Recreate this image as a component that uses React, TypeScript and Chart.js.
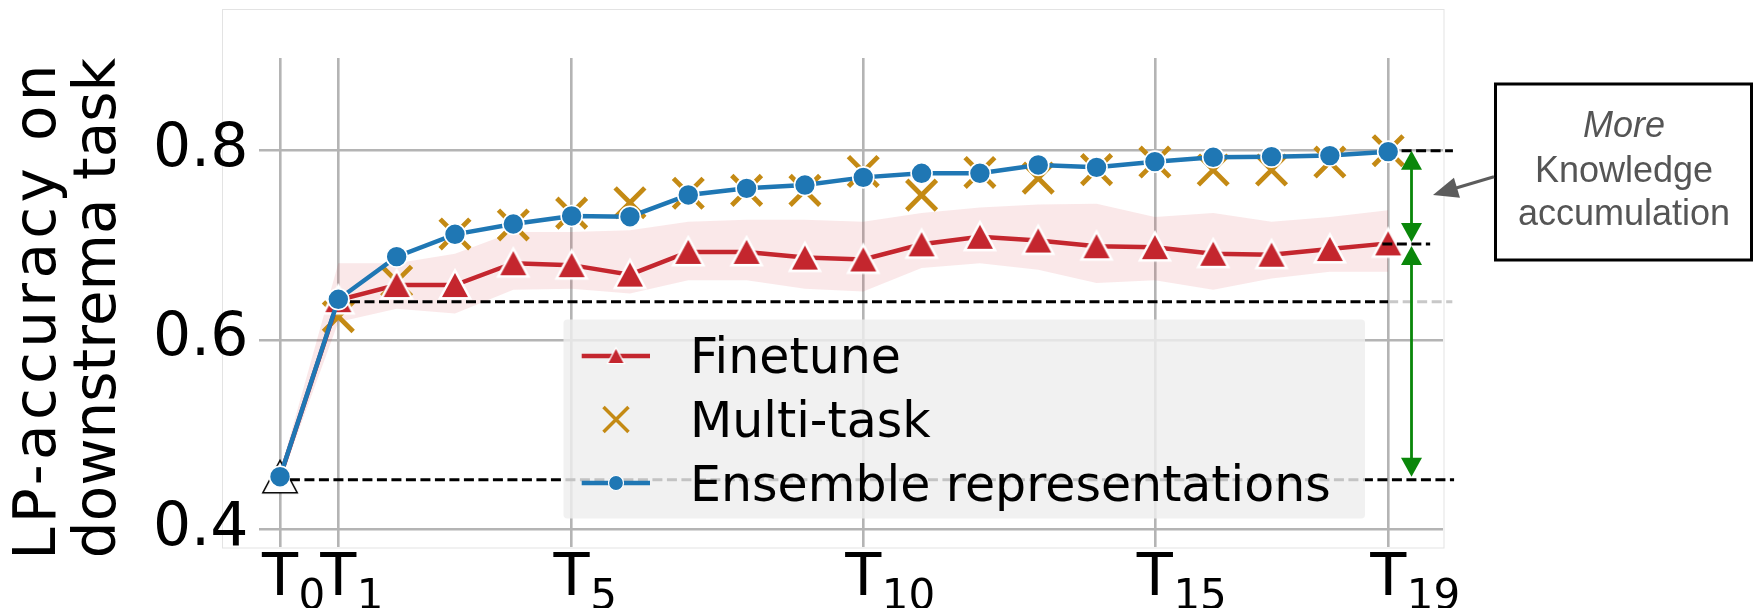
import React, { useEffect, useRef } from "react";
import { Chart, registerables } from "chart.js";

Chart.register(...registerables);

// ---------------- data ----------------
const tasks = [0, 1, 2, 3, 4, 5, 6, 7, 8, 9, 10, 11, 12, 13, 14, 15, 16, 17, 18, 19];
const finetune = [0.455, 0.642, 0.658, 0.658, 0.681, 0.679, 0.669, 0.693, 0.693, 0.687, 0.685, 0.701, 0.709, 0.705, 0.699, 0.698, 0.691, 0.690, 0.696, 0.702];
const finetuneUpper = [0.46, 0.681, 0.681, 0.691, 0.714, 0.714, 0.716, 0.725, 0.727, 0.727, 0.725, 0.734, 0.740, 0.743, 0.744, 0.730, 0.734, 0.725, 0.730, 0.737];
const finetuneLower = [0.45, 0.619, 0.633, 0.628, 0.653, 0.654, 0.649, 0.663, 0.663, 0.654, 0.651, 0.676, 0.681, 0.674, 0.660, 0.663, 0.653, 0.665, 0.672, 0.672];
const multiTask = [null, 0.6245, 0.662, 0.712, 0.7215, 0.734, 0.745, 0.755, 0.758, 0.758, 0.778, 0.753, 0.777, 0.771, 0.780, 0.788, 0.7796, 0.7796, 0.788, 0.800];
const ensemble = [0.4553, 0.6429, 0.688, 0.7116, 0.7225, 0.731, 0.7302, 0.7532, 0.7602, 0.7637, 0.7718, 0.7761, 0.7761, 0.7849, 0.7824, 0.7884, 0.793, 0.7937, 0.7948, 0.799];

const xTickValues = [0, 1, 5, 10, 15, 19];
const xTickSubs = ["0", "1", "5", "10", "15", "19"];
const yTickValues = [0.4, 0.6, 0.8];

const refT0 = 0.452;
const refT1 = 0.6404;
const refFinetuneEnd = 0.7013;
const refEnsembleEnd = 0.8;

const legendLabels = ["Finetune", "Multi-task", "Ensemble representations"];
const boxLines = ["More", "Knowledge", "accumulation"];
const yTitleLines = ["LP-accuracy on", "downstrema task"];

// ---------------- styles ----------------
const RED = "#c4262e";
const BLUE = "#1f77b4";
const GOLD = "#c48a14";
const GREEN = "#0a870a";
const GRID = "#b4b4b4";
const DJ = "'DejaVu Sans'";

function makeTri(w: number, h: number, fill: string, stroke: string, lw: number) {
  const pad = lw * 2 + 3;
  const c = document.createElement("canvas");
  c.width = Math.ceil(w + pad * 2);
  c.height = Math.ceil(h + pad * 2);
  const g = c.getContext("2d")!;
  const cx = c.width / 2;
  const cy = c.height / 2;
  g.beginPath();
  g.moveTo(cx, cy - h / 2);
  g.lineTo(cx + w / 2, cy + h / 2);
  g.lineTo(cx - w / 2, cy + h / 2);
  g.closePath();
  g.lineJoin = "miter";
  g.lineWidth = lw;
  g.strokeStyle = stroke;
  g.stroke();
  g.fillStyle = fill;
  g.fill();
  return c;
}

function arrowHead(ctx: CanvasRenderingContext2D, tx: number, ty: number, dx: number, dy: number, len: number, wid: number, color: string) {
  const L = Math.hypot(dx, dy);
  const ux = dx / L, uy = dy / L;
  const bx = tx - ux * len, by = ty - uy * len;
  ctx.beginPath();
  ctx.moveTo(tx, ty);
  ctx.lineTo(bx - uy * wid / 2, by + ux * wid / 2);
  ctx.lineTo(bx + uy * wid / 2, by - ux * wid / 2);
  ctx.closePath();
  ctx.fillStyle = color;
  ctx.fill();
}

const decorPlugin = {
  id: "decor",
  beforeDraw(chart: any) {
    const ctx = chart.ctx as CanvasRenderingContext2D;
    ctx.save();
    ctx.fillStyle = "#ffffff";
    ctx.fillRect(0, 0, chart.width, chart.height);
    ctx.strokeStyle = "#e3e3e3";
    ctx.lineWidth = 1;
    ctx.strokeRect(222.5, 9.5, 1221.5, 538.5);
    ctx.restore();
  },
  afterDatasetsDraw(chart: any) {
    const ctx = chart.ctx as CanvasRenderingContext2D;
    const xs = chart.scales.x;
    const ys = chart.scales.y;
    ctx.save();
    // green double arrows
    const gx = xs.getPixelForValue(19.4);
    const yTop = ys.getPixelForValue(refEnsembleEnd);
    const yMid = ys.getPixelForValue(refFinetuneEnd);
    const yBot = ys.getPixelForValue(ensemble[0]);
    ctx.strokeStyle = GREEN;
    ctx.lineWidth = 2.8;
    ctx.beginPath();
    ctx.moveTo(gx, yTop + 10);
    ctx.lineTo(gx, yMid - 10);
    ctx.moveTo(gx, yMid + 10);
    ctx.lineTo(gx, yBot - 10);
    ctx.stroke();
    arrowHead(ctx, gx, yTop, 0, -1, 19, 21, GREEN);
    arrowHead(ctx, gx, yMid - 2, 0, 1, 19, 21, GREEN);
    arrowHead(ctx, gx, yMid + 2, 0, -1, 19, 21, GREEN);
    arrowHead(ctx, gx, yBot, 0, 1, 19, 21, GREEN);

    // legend
    const lx = 563.5, ly = 319.5, lw = 801.5, lh = 199;
    ctx.fillStyle = "rgba(238,238,238,0.82)";
    ctx.beginPath();
    ctx.roundRect(lx, ly, lw, lh, 4);
    ctx.fill();
    const rows = [356, 419.5, 483];
    const hx0 = 581.7, hx1 = 650, hc = 616;
    // finetune handle
    ctx.lineWidth = 4.5;
    ctx.strokeStyle = RED;
    ctx.beginPath();
    ctx.moveTo(hx0, rows[0]);
    ctx.lineTo(hx1, rows[0]);
    ctx.stroke();
    const smallTri = makeTri(15, 14, RED, "#ffffff", 2.5);
    ctx.drawImage(smallTri, hc - smallTri.width / 2, rows[0] - smallTri.height / 2);
    // multi-task handle
    ctx.strokeStyle = GOLD;
    ctx.lineWidth = 3.5;
    ctx.beginPath();
    ctx.moveTo(hc - 12.5, rows[1] - 12.5);
    ctx.lineTo(hc + 12.5, rows[1] + 12.5);
    ctx.moveTo(hc - 12.5, rows[1] + 12.5);
    ctx.lineTo(hc + 12.5, rows[1] - 12.5);
    ctx.stroke();
    // ensemble handle
    ctx.strokeStyle = BLUE;
    ctx.lineWidth = 4.5;
    ctx.beginPath();
    ctx.moveTo(hx0, rows[2]);
    ctx.lineTo(hx1, rows[2]);
    ctx.stroke();
    ctx.beginPath();
    ctx.arc(hc, rows[2], 7.5, 0, Math.PI * 2);
    ctx.fillStyle = BLUE;
    ctx.fill();
    ctx.strokeStyle = "#ffffff";
    ctx.lineWidth = 1.2;
    ctx.stroke();
    ctx.fillStyle = "#000000";
    ctx.font = `49px ${DJ}`;
    ctx.textAlign = "left";
    ctx.textBaseline = "alphabetic";
    const bases = [373.3, 437.3, 500.5];
    legendLabels.forEach((t, i) => ctx.fillText(t, 690, bases[i]));
    ctx.restore();
  },
  afterDraw(chart: any) {
    const ctx = chart.ctx as CanvasRenderingContext2D;
    const xs = chart.scales.x;
    ctx.save();
    // x tick labels T_n
    ctx.fillStyle = "#000000";
    ctx.textBaseline = "alphabetic";
    xTickValues.forEach((v, i) => {
      const px = xs.getPixelForValue(v);
      ctx.font = `59px ${DJ}`;
      ctx.textAlign = "center";
      ctx.fillText("T", px, 595);
      const tw = ctx.measureText("T").width;
      ctx.font = `42px ${DJ}`;
      ctx.textAlign = "left";
      ctx.fillText(xTickSubs[i], px + tw / 2 + 0.5, 609);
    });
    // y title
    ctx.font = `58px ${DJ}`;
    ctx.textAlign = "center";
    const tcy = 308;
    [55, 115].forEach((bx, i) => {
      ctx.save();
      (ctx as any).letterSpacing = i === 0 ? "4.3px" : "0px";
      ctx.translate(bx, tcy + (i === 0 ? 2 : 0));
      ctx.rotate(-Math.PI / 2);
      ctx.fillText(yTitleLines[i], 0, 0);
      ctx.restore();
    });
    // annotation box
    ctx.strokeStyle = "#000000";
    ctx.lineWidth = 3;
    ctx.fillStyle = "#ffffff";
    ctx.fillRect(1495.5, 84, 256, 176);
    ctx.strokeRect(1495.5, 84, 256, 176);
    ctx.fillStyle = "#555555";
    ctx.textAlign = "center";
    ctx.textBaseline = "middle";
    ctx.font = `italic 36px 'Liberation Sans'`;
    ctx.fillText(boxLines[0], 1624, 127);
    ctx.font = `36px 'Liberation Sans'`;
    ctx.fillText(boxLines[1], 1624, 172);
    ctx.fillText(boxLines[2], 1624, 215);
    // grey pointer arrow
    ctx.strokeStyle = "#5c5c5c";
    ctx.lineWidth = 3.2;
    const sx = 1494, sy = 176.7, ex = 1433, ey = 195;
    const dx = ex - sx, dy = ey - sy;
    const L = Math.hypot(dx, dy);
    ctx.beginPath();
    ctx.moveTo(sx, sy);
    ctx.lineTo(ex - (dx / L) * 18, ey - (dy / L) * 18);
    ctx.stroke();
    arrowHead(ctx, ex, ey, dx, dy, 25, 21, "#5c5c5c");
    ctx.restore();
  },
};

function pts(vals: (number | null)[]) {
  const out: { x: number; y: number }[] = [];
  vals.forEach((v, i) => {
    if (v !== null) out.push({ x: tasks[i], y: v });
  });
  return out;
}

function dashLine(x0: number, x1: number, y: number, color: string) {
  return {
    label: "ref",
    data: [
      { x: x0, y },
      { x: x1, y },
    ],
    borderColor: color,
    borderWidth: 3,
    borderDash: [10, 4.5],
    pointRadius: 0,
    fill: false,
    clip: false,
    order: -1,
  };
}

export default function App() {
  const ref = useRef<HTMLCanvasElement | null>(null);
  useEffect(() => {
    document.body.style.margin = "0";
    const canvas = ref.current!;
    const tri = makeTri(26, 24, RED, "#ffffff", 5);
    const triT0 = makeTri(32, 30, "#ffffff", "#000000", 3);
    const triStyles = tasks.map((_, i) => (i === 0 ? triT0 : tri));
    const chart = new Chart(canvas, {
      type: "line",
      data: {
        datasets: [
          {
            label: "Ensemble representations",
            data: pts(ensemble),
            borderColor: BLUE,
            borderWidth: 4.5,
            pointRadius: 10.5,
            pointBackgroundColor: BLUE,
            pointBorderColor: "#ffffff",
            pointBorderWidth: 1.6,
            order: 0,
          },
          {
            label: "Finetune",
            data: pts(finetune),
            borderColor: RED,
            borderWidth: 4.5,
            pointRadius: 12,
            pointStyle: triStyles as any,
            order: 1,
          },
          {
            label: "Multi-task",
            data: pts(multiTask),
            showLine: false,
            borderColor: GOLD,
            pointStyle: "crossRot",
            pointRadius: 21,
            pointBorderColor: GOLD,
            pointBorderWidth: 4.8,
            order: 2,
          },
          {
            label: "upper",
            data: pts(finetuneUpper),
            borderWidth: 0,
            pointRadius: 0,
            fill: false,
            order: 10,
          },
          {
            label: "lower",
            data: pts(finetuneLower),
            borderWidth: 0,
            pointRadius: 0,
            fill: "-1",
            backgroundColor: "rgba(205,45,55,0.11)",
            order: 11,
          },
          dashLine(0.17, 20.13, refT0, "#000000"),
          dashLine(1.2, 19.0, refT1, "#000000"),
          dashLine(19.0, 20.1, refT1, "#c8c8c8"),
          dashLine(18.9, 19.72, refFinetuneEnd, "#000000"),
          dashLine(19.23, 20.11, refEnsembleEnd, "#000000"),
        ] as any,
      },
      options: {
        animation: false,
        responsive: false,
        devicePixelRatio: 1,
        events: [],
        layout: { padding: { left: 0, right: 311, top: 58, bottom: 0 } },
        plugins: { legend: { display: false }, tooltip: { enabled: false } },
        scales: {
          x: {
            type: "linear",
            min: -0.355,
            max: 19.94,
            afterBuildTicks: (s: any) => {
              s.ticks = xTickValues.map((v) => ({ value: v }));
            },
            afterFit: (s: any) => {
              s.height = 61;
            },
            ticks: { display: false },
            grid: { color: GRID, lineWidth: 2.6, drawTicks: false },
            border: { display: false },
          },
          y: {
            type: "linear",
            min: 0.381,
            max: 0.898,
            afterBuildTicks: (s: any) => {
              s.ticks = yTickValues.map((v) => ({ value: v }));
            },
            afterFit: (s: any) => {
              s.width = 259.3;
            },
            ticks: {
              color: "#000000",
              font: { family: "DejaVu Sans", size: 60, lineHeight: 1 },
              padding: 11,
              callback: (v: any) => Number(v).toFixed(1),
            },
            grid: { color: GRID, lineWidth: 2.6, drawTicks: false },
            border: { display: false },
          },
        },
      },
      plugins: [decorPlugin],
    });
    return () => chart.destroy();
  }, []);
  return (
    <div style={{ width: 1754, height: 608, overflow: "hidden" }}>
      <canvas ref={ref} width={1754} height={608} style={{ display: "block" }} />
    </div>
  );
}
